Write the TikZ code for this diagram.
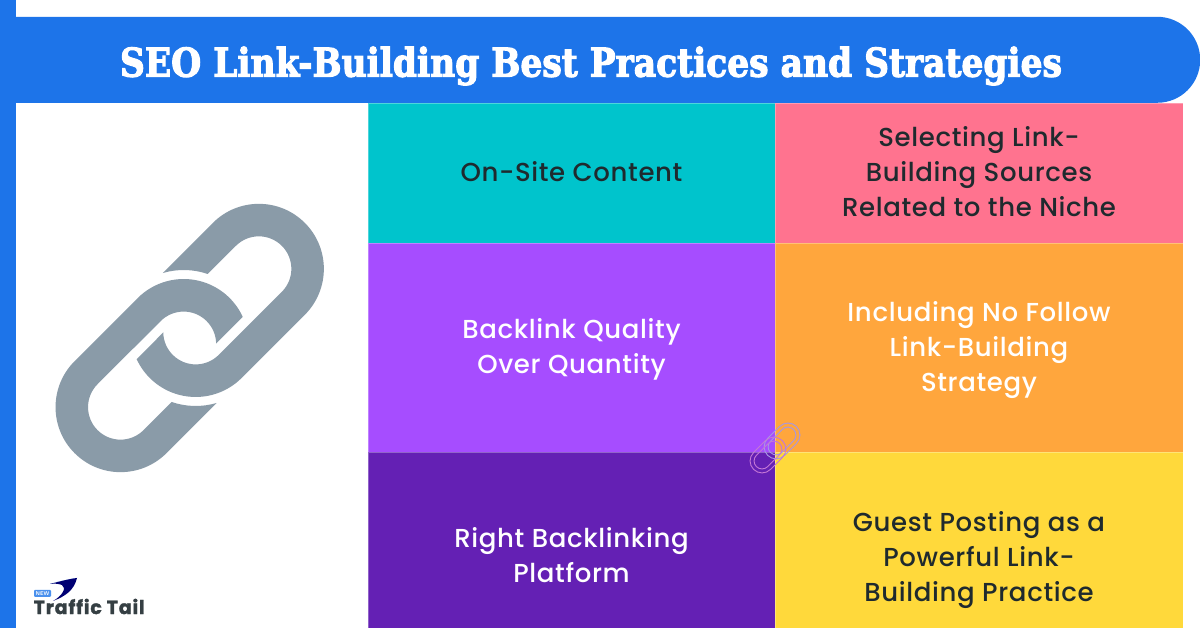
\documentclass[tikz,border=0pt]{standalone}
\usepackage{fontspec}
\usepackage{graphicx}
\usetikzlibrary{positioning,shapes.misc}

\setmainfont{Poppins}
\newfontfamily\cellfont[LetterSpace=2.5]{Poppins Medium}
\newfontfamily\titlefont[FakeBold=3]{DejaVu Serif}
\newfontfamily\logofont[FakeBold=1.6,LetterSpace=4.5]{Poppins}

\definecolor{barblue}{HTML}{1D74E9}
\definecolor{linkgray}{HTML}{8A9BA8}
\definecolor{inkdark}{HTML}{1F2A2E}
\definecolor{cellteal}{HTML}{00C4CC}
\definecolor{cellpink}{HTML}{FF738F}
\definecolor{cellviolet}{HTML}{A64DFF}
\definecolor{cellorange}{HTML}{FFA63D}
\definecolor{celldeep}{HTML}{6420B4}
\definecolor{cellyellow}{HTML}{FFD93B}
\definecolor{iconpink}{HTML}{C477D6}
\definecolor{iconblue}{HTML}{A796E4}

\tikzset{
	cell/.style={rectangle, inner sep=0pt, outer sep=0pt, draw=white, draw opacity=.3, line width=.5pt},
	celltext/.style={align=center, inner sep=0pt, font=\cellfont\fontsize{26}{35}\selectfont},
	link/.style={fill=linkgray, draw=none},
	iconline/.style={line width=.9pt}
}

\begin{document}
\begin{tikzpicture}[x=1pt, y=1pt, node distance=0pt]
	\useasboundingbox (0,0) rectangle (1200,628);
	\fill[white] (0,0) rectangle (1200,628);

	% Cells
	\node [cell, fill=cellteal, minimum width=407pt, minimum height=140pt, anchor=north west] (content) at (368,525) {};
	\node [cell, fill=cellviolet, minimum width=407pt, minimum height=209pt] (quality) [below=of content] {};
	\node [cell, fill=celldeep, minimum width=407pt, minimum height=176pt] (platform) [below=of quality] {};
	\node [cell, fill=cellpink, minimum width=408pt, minimum height=140pt] (sources) [right=of content] {};
	\node [cell, fill=cellorange, minimum width=408pt, minimum height=209pt] (nofollow) [below=of sources] {};
	\node [cell, fill=cellyellow, minimum width=408pt, minimum height=176pt] (guest) [below=of nofollow] {};

	% Cell texts
	\node [celltext, text=inkdark] (contenttext) at ([yshift=1pt]content.center) {On-Site Content};
	\node [celltext, text=white] (qualitytext) at ([yshift=-2pt]quality.center) {Backlink Quality\\Over Quantity};
	\node [celltext, text=white] (platformtext) at ([yshift=-15pt]platform.center) {Right Backlinking\\Platform};
	\node [celltext, text=inkdark] (sourcestext) at ([yshift=1pt]sources.center) {Selecting Link-\\Building Sources\\Related to the Niche};
	\node [celltext, text=white] (nofollowtext) at ([yshift=-3pt]nofollow.center) {Including No Follow\\Link-Building\\Strategy};
	\node [celltext, text=inkdark] (guesttext) at ([yshift=-20pt]guest.center) {Guest Posting as a\\Powerful Link-\\Building Practice};

	% Side bar and banner
	\node [rectangle, fill=barblue, inner sep=0pt, minimum width=16pt, minimum height=628pt, anchor=south west] (sidebar) at (0,0) {};
	\node [rounded rectangle, rounded rectangle west arc=none, fill=barblue, inner sep=0pt, minimum width=1200pt, minimum height=86pt, anchor=south west] (banner) at (0,525) {};
	\node [text=white, inner sep=0pt] (title) at (591,562) {\resizebox{942pt}{30pt}{\titlefont\bfseries SEO Link-Building Best Practices and Strategies}};

	% Big chain
	\foreach \ang in {45,225} {
		\begin{scope}[shift={(189.7,290)}, rotate=\ang]
			\fill[link] (26.9,65) -- (97.8,65) arc (90:-90:65) -- (8.5,-65) arc (270:159.7:65)
				-- (-14.8,22.6) arc (136:270:32.5) -- (97.8,-32.5) arc (-90:90:32.5)
				-- (58,32.5) arc (26.05:61.4:74) -- cycle;
		\end{scope}
	}

	% Small chain on the seam
	\foreach \ang/\col in {45/iconblue,225/iconpink} {
		\begin{scope}[shift={(775,180)}, rotate=\ang]
			\draw[iconline, draw=\col] (1.6,12) -- (18.3,12) arc (90:-90:12) -- (1.6,-12) arc (270:90:12) -- cycle;
			\draw[iconline, draw=\col] (1.6,8) -- (18.3,8) arc (90:-90:8) -- (1.6,-8) arc (270:90:8) -- cycle;
		\end{scope}
	}

	% Logo
	\node [rectangle, rounded corners=1pt, fill=barblue!80, text=white, inner sep=0pt, minimum width=17pt, minimum height=7pt, font=\sffamily\bfseries\fontsize{5.5}{6}\selectfont] (newbadge) at (42.5,34.5) {NEW};
	\node [text=inkdark!90, inner sep=0pt, anchor=west, font=\logofont\bfseries\fontsize{19}{20}\selectfont] (logotext) at (33.5,21.5) {Traffic Tail};
	\fill[barblue] (50,44) .. controls (60,47) and (70,49) .. (77,50) .. controls (70,49) and (60,47) .. cycle;
	\fill[blue!45!black] (50,44) .. controls (58,46) and (68,49) .. (77,50) .. controls (74,38) and (66,32) .. (53,27) .. controls (62,32) and (67,40) .. (62,43) .. controls (58,44.5) and (54,44.5) .. cycle;
\end{tikzpicture}
\end{document}
